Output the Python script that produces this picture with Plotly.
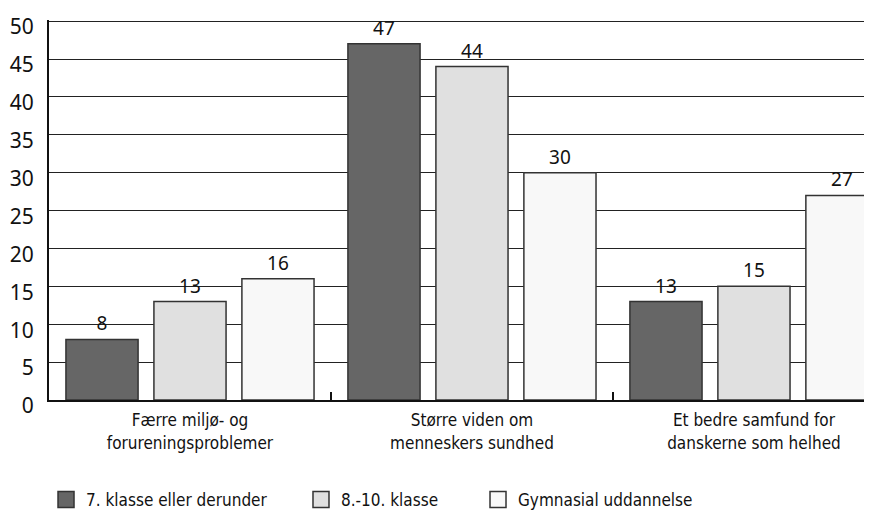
import plotly.graph_objects as go

categories = ["Færre miljø- og<br>forureningsproblemer",
              "Større viden om<br>menneskers sundhed",
              "Et bedre samfund for<br>danskerne som helhed"]
series_names = ["7. klasse eller derunder", "8.-10. klasse", "Gymnasial uddannelse"]
values_7 = [8, 47, 13]
values_8_10 = [13, 44, 15]
values_gym = [16, 30, 27]
y_ticks = [0, 5, 10, 15, 20, 25, 30, 35, 40, 45, 50]

colors = ["#666666", "#e0e0e0", "#f8f8f8"]
num_font = "Noto Sans"
narrow_font = "DejaVu Sans Condensed"
legend_ids = ["legend", "legend2", "legend3"]
legend_x = [0.0436, 0.336, 0.539]

fig = go.Figure()
for name, vals, col in zip(series_names, [values_7, values_8_10, values_gym], colors):
    fig.add_trace(go.Bar(
        x=categories, y=vals, name=name, showlegend=False,
        marker=dict(color=col, line=dict(color="#333333", width=1.5)),
        text=[str(v) for v in vals], textposition="outside",
        textfont=dict(family=num_font, size=19, color="#111111"),
        cliponaxis=False,
    ))
for name, col, lid in zip(series_names, colors, legend_ids):
    fig.add_trace(go.Scatter(
        x=[None], y=[None], mode="markers", name=name, legend=lid,
        marker=dict(symbol="square", size=16, color=col,
                    line=dict(color="#333333", width=1.5)),
    ))

legend_style = dict(orientation="h", xref="container", xanchor="left",
                    yref="container", y=0.0484, yanchor="middle",
                    font=dict(family=narrow_font, size=17, color="#111111"),
                    itemsizing="trace", bgcolor="rgba(0,0,0,0)")
fig.update_layout(
    width=872, height=517,
    margin=dict(l=41, r=0, t=12, b=125),
    paper_bgcolor="white", plot_bgcolor="white",
    barmode="group", bargap=0.064, bargroupgap=0.18,
    legend=dict(x=legend_x[0], **legend_style),
    legend2=dict(x=legend_x[1], **legend_style),
    legend3=dict(x=legend_x[2], **legend_style),
    showlegend=True,
)
fig.update_xaxes(
    range=[-0.5, 2.447], automargin=False,
    showline=True, linecolor="#111111", linewidth=2,
    ticks="inside", tickson="boundaries", ticklen=8, tickwidth=2, tickcolor="#111111",
    tickfont=dict(family=narrow_font, size=17, color="#111111"),
    ticklabelstandoff=4,
    showgrid=False,
)
fig.update_yaxes(
    range=[0, 50.15], tickvals=y_ticks, automargin=False,
    showline=True, linecolor="#111111", linewidth=2,
    showgrid=True, gridcolor="#222222", gridwidth=1,
    zeroline=False, ticks="", ticklabelstandoff=9, ticklabelshift=6,
    tickfont=dict(family=num_font, size=21, color="#111111"),
)
fig.write_html("out.html")
